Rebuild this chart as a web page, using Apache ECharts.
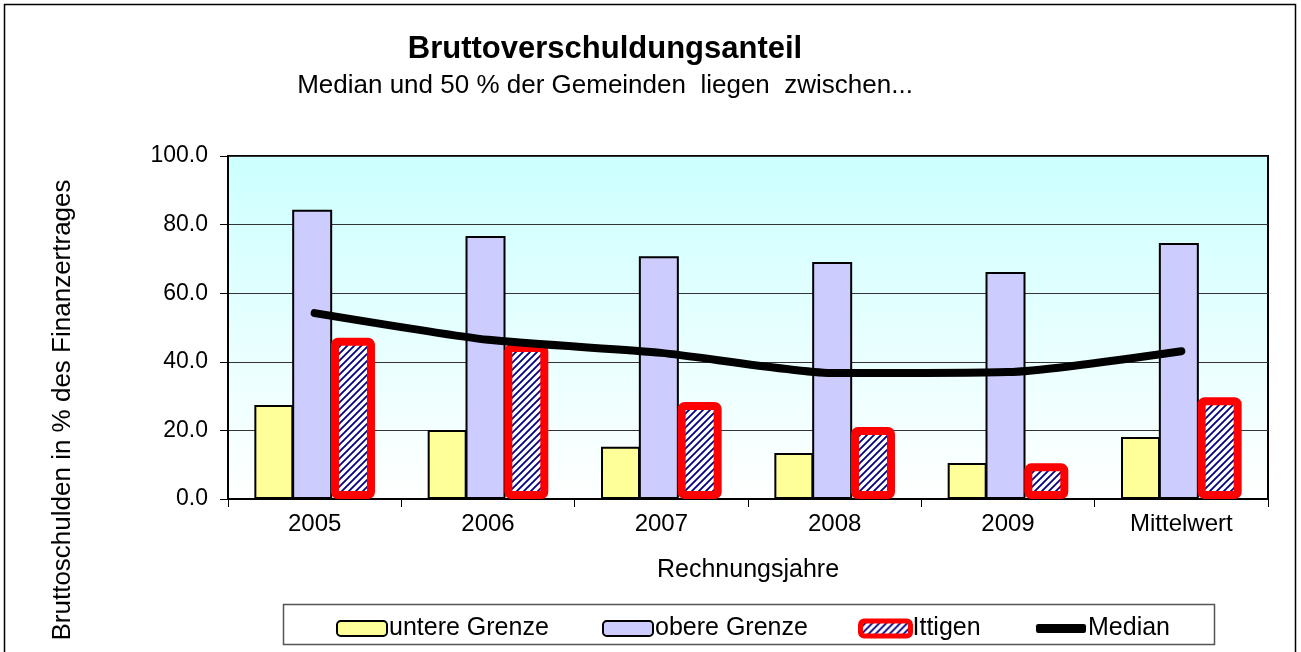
<!DOCTYPE html>
<html>
<head>
<meta charset="utf-8">
<script src="https://cdn.jsdelivr.net/npm/echarts@6/dist/echarts.min.js"></script>
<style>
  html, body { margin: 0; padding: 0; background: #fff; }
  #main { width: 1301px; height: 652px; }
</style>
</head>
<body>
<div id="main"></div>
<script>
// Rechnungsjahre + Mittelwert
const categories = ['2005', '2006', '2007', '2008', '2009', 'Mittelwert']
const untereGrenze = [27.4, 20.1, 15.2, 13.4, 10.5, 18.1]
const obereGrenze = [84.3, 76.7, 70.8, 69.1, 66.2, 74.6]
const ittigen = [47.0, 45.2, 28.3, 21.0, 10.4, 29.7]
const median = [54.2, 46.4, 42.6, 36.7, 37.0, 43.1]

const font = 'Liberation Sans, Arial, sans-serif'

// schraffur fuer Ittigen (dunkelblau / weiss)
function hatch() {
  const s = 7
  const c = document.createElement('canvas')
  c.width = s
  c.height = s
  const ctx = c.getContext('2d')
  ctx.fillStyle = '#fff'
  ctx.fillRect(0, 0, s, s)
  ctx.strokeStyle = '#000080'
  ctx.lineWidth = 1.8
  ctx.beginPath()
  ctx.moveTo(0, s); ctx.lineTo(s, 0)
  ctx.moveTo(-1, 1); ctx.lineTo(1, -1)
  ctx.moveTo(s - 1, s + 1); ctx.lineTo(s + 1, s - 1)
  ctx.stroke()
  return c
}

const chart = echarts.init(document.getElementById('main'), null, { renderer: 'canvas' })

// eine legende pro eintrag, damit die abstaende stimmen
function legendAt(left, name, extra) {
  return Object.assign({
    left: left,
    top: 616,
    padding: 0,
    itemWidth: 50,
    itemHeight: 15,
    textStyle: { fontFamily: font, fontSize: 25, color: '#000', padding: [0, 0, 0, -3] },
    data: [{ name: name }]
  }, extra || {})
}

const option = {
  animation: false,
  textStyle: { fontFamily: font },
  graphic: [
    {
      type: 'rect', z: -10, silent: true,
      shape: { x: 4.5, y: 4.5, width: 1291, height: 680 },
      style: { fill: '#fff', stroke: '#000', lineWidth: 1.5 }
    },
    {
      type: 'rect', z: -5, silent: true,
      shape: { x: 283.5, y: 604.5, width: 931, height: 40 },
      style: { fill: '#fff', stroke: '#555', lineWidth: 1.5 }
    },
    {
      type: 'text', x: 605, y: 49,
      style: { text: 'Bruttoverschuldungsanteil', fontFamily: font, fontSize: 31, fontWeight: 'bold', fill: '#000', align: 'center', verticalAlign: 'middle' }
    },
    {
      type: 'text', x: 605, y: 86,
      style: { text: 'Median und 50 % der Gemeinden  liegen  zwischen...', fontFamily: font, fontSize: 26, fill: '#000', align: 'center', verticalAlign: 'middle' }
    },
    {
      type: 'text', x: 63, y: 410, rotation: Math.PI / 2,
      style: { text: 'Bruttoschulden in % des Finanzertrages', fontFamily: font, fontSize: 26, fill: '#000', align: 'center', verticalAlign: 'middle' }
    }
  ],
  legend: [
    legendAt(336, 'untere Grenze'),
    legendAt(602, 'obere Grenze'),
    legendAt(858, 'Ittigen', { data: [{ name: 'Ittigen', itemStyle: { borderWidth: 5 } }] }),
    legendAt(1036, 'Median', { data: [{ name: 'Median', icon: 'roundRect', itemStyle: { color: '#000' } }], itemHeight: 9 })
  ],
  grid: {
    left: 228,
    right: 33,
    top: 156,
    bottom: 153,
    show: true,
    borderColor: '#000',
    borderWidth: 2,
    backgroundColor: new echarts.graphic.LinearGradient(0, 0, 0, 1, [
      { offset: 0, color: '#ccffff' },
      { offset: 1, color: '#ffffff' }
    ])
  },
  xAxis: {
    type: 'category',
    data: categories,
    name: 'Rechnungsjahre',
    nameLocation: 'middle',
    nameGap: 59,
    nameTextStyle: { fontFamily: font, fontSize: 25, color: '#000' },
    axisLine: { lineStyle: { color: '#000', width: 2 } },
    axisTick: { show: true, length: 8, lineStyle: { color: '#000' } },
    axisLabel: { fontFamily: font, fontSize: 24, color: '#000', margin: 13 }
  },
  yAxis: {
    type: 'value',
    min: 0,
    max: 100,
    interval: 20,
    axisLine: { show: true, lineStyle: { color: '#000', width: 2 } },
    axisTick: { show: true, length: 8, lineStyle: { color: '#000' } },
    axisLabel: {
      fontFamily: font, fontSize: 23, color: '#000', margin: 20,
      formatter: v => v.toFixed(1)
    },
    splitLine: { show: true, lineStyle: { color: '#333', width: 1.2 } }
  },
  series: [
    {
      name: 'untere Grenze',
      type: 'bar',
      data: untereGrenze,
      barWidth: 39,
      barGap: '-3%',
      itemStyle: { color: '#ffff99', borderColor: '#000', borderWidth: 2 }
    },
    {
      name: 'obere Grenze',
      type: 'bar',
      data: obereGrenze,
      barWidth: 40,
      barGap: '-3%',
      itemStyle: { color: '#ccccff', borderColor: '#000', borderWidth: 2 }
    },
    {
      name: 'Ittigen',
      type: 'bar',
      data: ittigen,
      barWidth: 44,
      barGap: '-3%',
      itemStyle: {
        color: { image: hatch(), repeat: 'repeat' },
        borderColor: '#ff0000',
        borderWidth: 8,
        borderRadius: 3
      }
    },
    {
      name: 'Median',
      type: 'line',
      data: median,
      smooth: 0.2,
      symbol: 'none',
      z: 5,
      lineStyle: { color: '#000', width: 8, cap: 'round' },
      itemStyle: { color: '#000' }
    }
  ]
}

chart.setOption(option)
</script>
</body>
</html>
